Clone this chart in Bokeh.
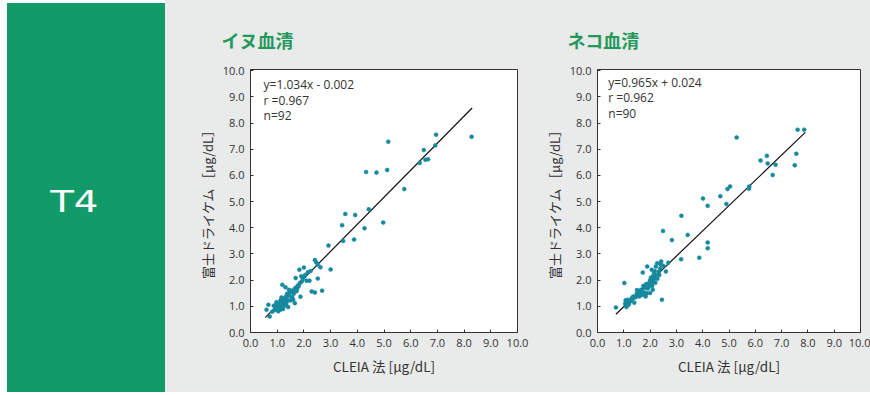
from bokeh.plotting import figure
from bokeh.layouts import row
from bokeh.models import FixedTicker, NumeralTickFormatter, Range1d, Div
from bokeh.core.properties import value
from bokeh.embed import file_html
from bokeh.resources import INLINE

# ---------------- data ----------------
panel_label = ["T4"]
titles = ["イヌ血清", "ネコ血清"]
x_label = "CLEIA 法 [μg/dL]"
y_label = "富士ドライケム ［μg/dL］"
ticks = [0, 1, 2, 3, 4, 5, 6, 7, 8, 9, 10]

dog_x = [8.28, 6.95, 6.92, 6.49, 6.55, 6.65, 6.34, 5.16, 5.12, 4.33, 4.72, 5.76, 4.43, 3.55, 3.92,
         3.43, 4.27, 4.97, 3.47, 3.88,
         0.60, 0.72, 0.67, 0.81, 0.87, 0.97, 0.99, 1.04, 1.07, 1.12, 1.16, 1.19, 1.22, 1.25, 1.29,
         1.32, 1.35, 1.37, 1.41, 1.19, 1.31, 1.44, 1.50, 1.56, 1.62, 1.66, 1.75, 1.81, 1.87, 1.85,
         1.69, 1.83, 2.00, 1.90, 2.02, 2.10, 2.21, 2.29, 2.41, 2.52, 2.41, 2.46, 2.52, 2.62, 2.68,
         3.00, 2.92,
         0.90, 0.95, 1.02, 1.05, 1.10, 1.14, 1.18, 1.24, 1.28, 1.33, 1.38, 1.45, 1.48, 1.52, 1.58,
         1.64, 1.70, 1.72, 1.78, 1.92, 1.96, 2.05, 2.15, 2.25, 1.60]
dog_y = [7.48, 7.56, 7.15, 6.97, 6.60, 6.62, 6.48, 7.29, 6.21, 6.13, 6.11, 5.48, 4.71, 4.53, 4.49,
         4.10, 3.98, 4.20, 3.50, 3.55,
         0.87, 0.61, 1.06, 0.79, 1.02, 1.16, 0.93, 0.81, 1.03, 1.22, 1.34, 1.12, 0.90, 1.28, 1.03,
         1.37, 1.16, 1.48, 0.97, 1.82, 1.73, 1.63, 1.22, 1.35, 1.48, 1.12, 1.67, 1.78, 1.37, 1.89,
         2.08, 2.40, 2.48, 2.15, 2.14, 1.98, 1.98, 1.57, 1.53, 2.06, 2.77, 2.68, 2.59, 2.49, 1.60,
         2.41, 3.32,
         0.85, 1.05, 1.10, 0.95, 1.00, 0.88, 1.02, 1.15, 1.20, 1.08, 1.25, 1.40, 1.52, 1.60, 1.55,
         1.65, 1.72, 1.58, 1.80, 1.95, 2.05, 2.20, 2.30, 2.35, 1.25]

cat_x = [7.61, 7.86, 5.29, 7.56, 7.50, 6.20, 6.44, 6.47, 6.77, 6.66, 5.04, 4.94, 4.67, 5.77, 5.76,
         4.90, 4.01, 4.19, 3.19, 3.43, 2.49, 2.83, 4.19, 4.19, 3.18, 3.87,
         0.70, 1.02, 1.07, 1.11, 1.17, 1.10, 1.24, 1.30, 1.36, 1.40, 1.49, 1.55, 1.59, 1.65, 1.69,
         1.74, 1.78, 1.83, 1.89, 1.72, 1.91, 1.96, 2.00, 2.03, 2.06, 2.08, 2.12, 2.15, 2.19, 2.22,
         2.27, 2.25, 2.33, 2.38, 2.42, 2.45, 2.50, 2.60, 2.69, 2.10,
         1.05, 1.15, 1.20, 1.28, 1.35, 1.45, 1.50, 1.58, 1.62, 1.68, 1.75, 1.80, 1.85, 1.88, 1.95,
         2.00, 2.05, 2.10, 2.18, 2.20, 2.28, 2.35, 2.40, 1.52]
cat_y = [7.75, 7.75, 7.45, 6.83, 6.39, 6.57, 6.75, 6.46, 6.41, 6.02, 5.58, 5.48, 5.21, 5.58, 5.49,
         4.91, 5.12, 4.84, 4.46, 3.73, 3.88, 3.53, 3.44, 3.22, 2.80, 2.86,
         0.96, 1.89, 1.23, 1.14, 1.05, 0.97, 1.20, 1.31, 1.38, 1.14, 1.48, 1.57, 1.38, 1.63, 1.44,
         1.78, 1.53, 1.38, 2.52, 2.29, 1.68, 1.89, 1.51, 2.09, 2.40, 1.78, 1.95, 2.27, 2.06, 2.52,
         2.65, 2.19, 2.32, 2.45, 2.71, 1.25, 2.55, 2.33, 2.67, 1.63,
         1.10, 1.25, 1.10, 1.22, 1.30, 1.35, 1.62, 1.50, 1.42, 1.58, 1.45, 1.70, 1.85, 1.50, 1.75,
         2.00, 1.85, 2.15, 2.35, 1.90, 2.05, 2.20, 2.60, 1.45]

fit_slope = [1.034, 0.965]
fit_intercept = [-0.002, 0.024]
fit_x_ends = [[0.55, 8.3], [0.70, 7.9]]
stats_lines = [["y=1.034x - 0.002", " r =0.967", "n=92"],
               ["y=0.965x + 0.024", " r =0.962", "n=90"]]

# ---------------- style ----------------
GREEN_PANEL = "#139a69"
BG = "#e9eaea"
TITLE_GREEN = "#22995a"
DOT = "#16899f"
INK = "#333333"
CJK = "Noto Sans CJK JP"
LAT = "Open Sans"

H = 392

panel_html = (
    '<div style="position:relative;width:165px;height:392px;background:white;">'
    '<div style="position:absolute;left:7px;top:3px;width:158px;height:389px;'
    'background:%s;"></div>'
    '<div style="position:absolute;left:0px;top:185px;width:149px;height:32px;'
    'line-height:32px;text-align:center;color:white;font-family:\'DejaVu Sans\';'
    'font-size:31px;"><span style="display:inline-block;transform:scaleX(1.25);">%s</span></div>'
    '</div>' % (GREEN_PANEL, panel_label[0])
)
panel = Div(text=panel_html, width=165, height=H, margin=(0, 0, 0, 0))


def make_plot(idx, xs, ys, width, border_left, border_right, title_offset, text_x, text_ys):
    p = figure(width=width, height=H, x_range=Range1d(0, 10), y_range=Range1d(0, 10.05),
               toolbar_location=None, output_backend="svg",
               min_border_left=border_left, min_border_right=border_right,
               min_border_top=69, min_border_bottom=60,
               background_fill_color="white", border_fill_color=BG,
               outline_line_color=INK, outline_line_width=1)
    p.grid.visible = False
    p.title.text = titles[idx]
    p.title.text_font = CJK
    p.title.text_font_size = "18px"
    p.title.text_font_style = "bold"
    p.title.text_color = TITLE_GREEN
    p.title.align = "left"
    p.title.offset = title_offset
    p.title.standoff = 34

    for ax in (p.xaxis[0], p.yaxis[0]):
        ax.ticker = FixedTicker(ticks=ticks)
        ax.formatter = NumeralTickFormatter(format="0.0")
        ax.major_tick_in = 3
        ax.major_tick_out = 0
        ax.minor_tick_line_color = None
        ax.axis_line_color = INK
        ax.major_tick_line_color = INK
        ax.major_label_text_font = LAT
        ax.major_label_text_font_size = "11px"
        ax.major_label_text_color = INK
        ax.axis_label_text_font_style = "normal"
        ax.axis_label_text_color = INK
    p.xaxis.axis_label = x_label
    p.xaxis.axis_label_text_font = CJK
    p.xaxis.axis_label_text_font_size = "13.5px"
    p.xaxis.major_label_standoff = 6
    p.xaxis.axis_label_standoff = 6
    p.yaxis.axis_label = y_label
    p.yaxis.axis_label_text_font = CJK
    p.yaxis.axis_label_text_font_size = "13px"
    p.yaxis.major_label_standoff = 6
    p.yaxis.axis_label_standoff = 3

    lx = fit_x_ends[idx]
    ly = [fit_slope[idx] * v + fit_intercept[idx] for v in lx]
    p.line(lx, ly, line_color="#111111", line_width=1.2)
    p.scatter(xs, ys, size=4, fill_color=DOT, line_color=DOT, line_width=0.5)

    p.text(x=[text_x] * 3, y=text_ys, text=stats_lines[idx], text_color=INK,
           text_font=value(LAT), text_font_size="12px", text_align="left",
           text_baseline="middle")
    return p


left = make_plot(0, dog_x, dog_y, 375, 85, 23, -29, 0.49, [9.49, 8.88, 8.31])
right = make_plot(1, cat_x, cat_y, 330, 57, 10, -30, 0.41, [9.55, 8.98, 8.38])

layout = row(panel, left, right, styles={"background-color": BG})
layout.spacing = 0

open("out.html", "w").write(file_html(layout, INLINE))
